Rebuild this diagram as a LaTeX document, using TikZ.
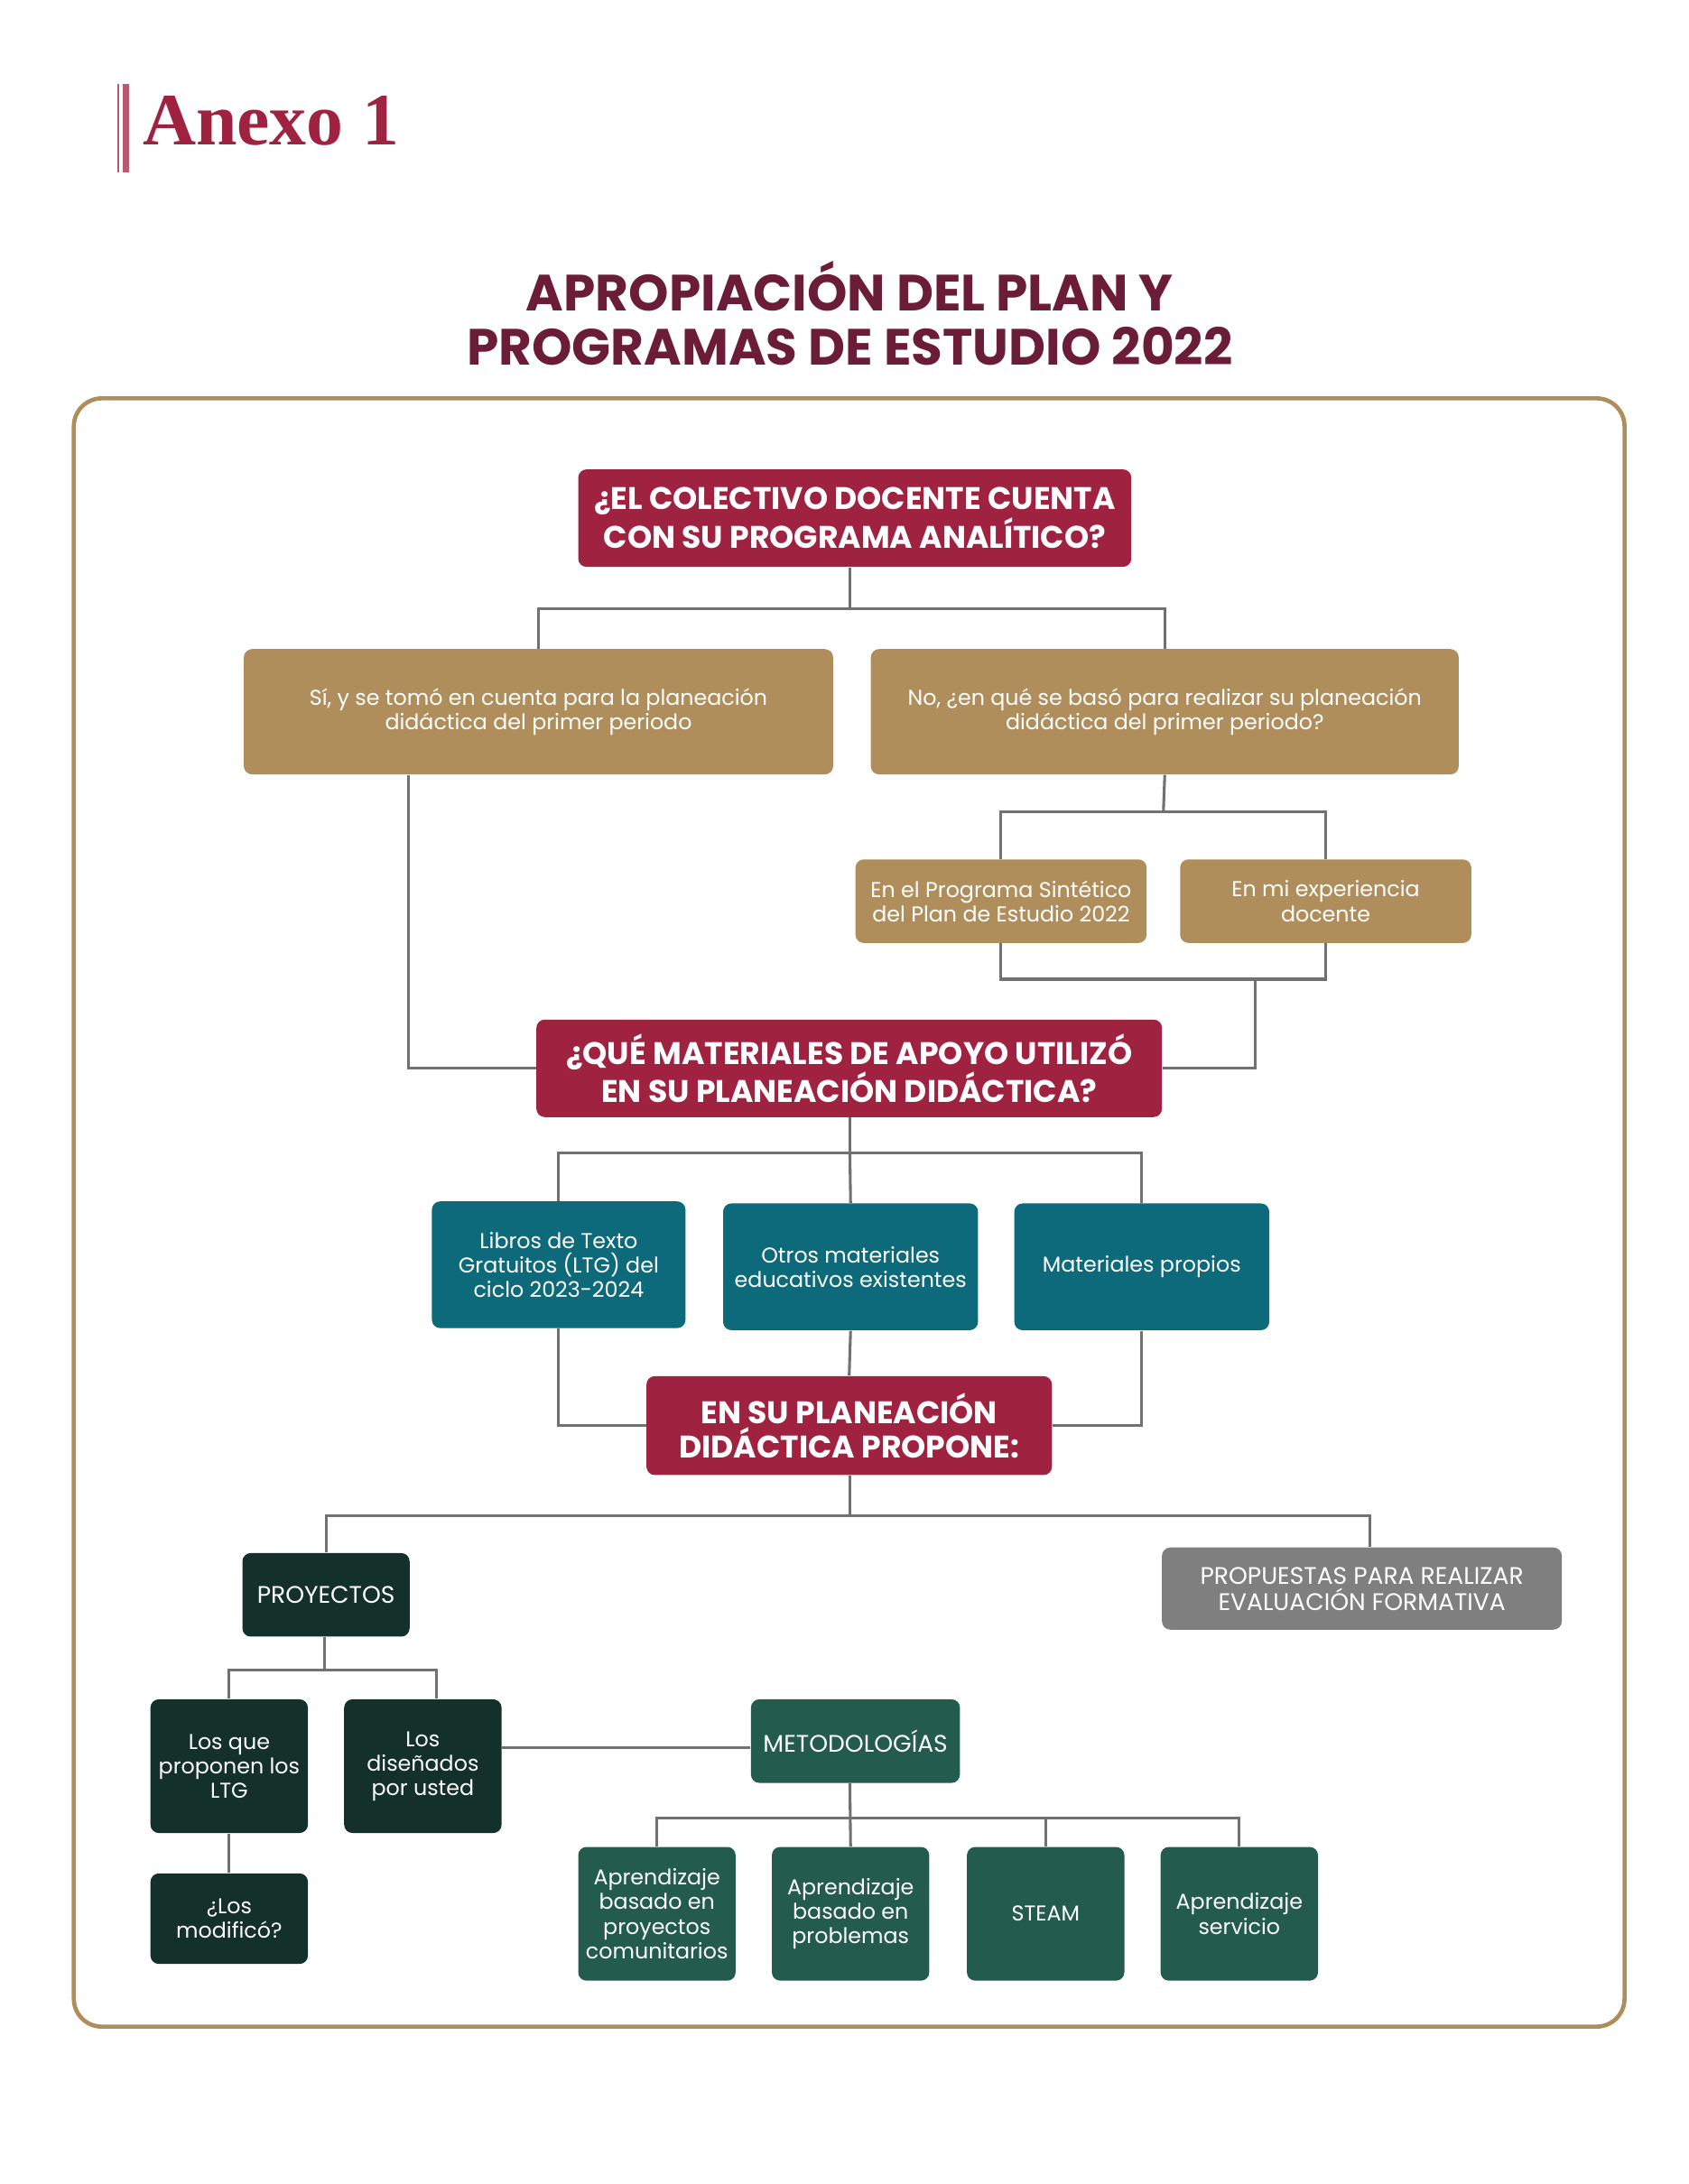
\documentclass[tikz,border=0pt]{standalone}
\usepackage{fontspec}
\setmainfont{Poppins}
\newfontfamily\serifa{Liberation Serif}
\definecolor{guinda}{HTML}{9F2241}
\definecolor{vino}{HTML}{6B1D38}
\definecolor{dorado}{HTML}{B08E5C}
\definecolor{petroleo}{HTML}{0D6A7B}
\definecolor{verdeosc}{HTML}{13302A}
\definecolor{verde}{HTML}{245B4F}
\definecolor{gris}{HTML}{7E7F7E}
\definecolor{linea}{HTML}{717171}
\tikzset{
  caja/.style={rounded corners=3pt, text=white, align=center, inner sep=2pt,
    font=\fontsize{7.7}{8.8}\selectfont},
  mayus/.style={font=\fontsize{8.6}{9.4}\selectfont},
  pregunta/.style={caja, fill=guinda, font=\fontsize{11.2}{12.5}\selectfont\bfseries},
  respuesta/.style={caja, fill=dorado},
  material/.style={caja, fill=petroleo},
  proyecto/.style={caja, fill=verdeosc},
  metodo/.style={caja, fill=verde},
  conn/.style={draw=linea, line width=1pt},
}

\begin{document}
\begin{tikzpicture}[x=0.5pt, y=-0.5pt]
    \useasboundingbox (0,0) rectangle (1212,1568);
    % Encabezado
    \fill[guinda!75] (84,60) rectangle (85.6,124);
    \fill[guinda!75] (88,60) rectangle (92.6,124);
    \node[anchor=base west, inner sep=0pt, text=guinda,
      font=\serifa\fontsize{26.5}{28}\selectfont\bfseries] (anexo) at (102,104) {Anexo 1};
    \node[align=center, text=vino, font=\fontsize{18.3}{19.5}\selectfont\bfseries] (titulo) at (610,225)
      {APROPIACIÓN DEL PLAN Y\\PROGRAMAS DE ESTUDIO 2022};

    % Marco
    \draw[dorado, line width=1.5pt, rounded corners=10pt] (53,286) rectangle (1166,1455);

    % Primera pregunta y respuestas
    \node[pregunta, minimum width=198.5pt, minimum height=35pt] (q1) at (613.5,372)
      {¿EL COLECTIVO DOCENTE CUENTA\\CON SU PROGRAMA ANALÍTICO?};
    \node[respuesta, minimum width=211.5pt, minimum height=45pt] (si) at (386.5,511)
      {Sí, y se tomó en cuenta para la planeación\\didáctica del primer periodo};
    \node[respuesta, minimum width=211pt, minimum height=45pt] (no) at (836,511)
      {No, ¿en qué se basó para realizar su planeación\\didáctica del primer periodo?};
    \node[respuesta, minimum width=104.5pt, minimum height=30pt] (sint) at (718.5,647)
      {En el Programa Sintético\\del Plan de Estudio 2022};
    \node[respuesta, minimum width=104.5pt, minimum height=30pt] (exp) at (951.5,647)
      {En mi experiencia\\docente};

    % Segunda pregunta y materiales
    \node[pregunta, minimum width=224.5pt, minimum height=35pt] (q2) at (609.5,767)
      {¿QUÉ MATERIALES DE APOYO UTILIZÓ\\EN SU PLANEACIÓN DIDÁCTICA?};
    \node[material, minimum width=91pt, minimum height=45.5pt] (lib) at (401,908)
      {Libros de Texto\\Gratuitos (LTG) del\\ciclo 2023-2024};
    \node[material, minimum width=91.5pt, minimum height=45.5pt] (otros) at (610.5,909.5)
      {Otros materiales\\educativos existentes};
    \node[material, minimum width=91.5pt, minimum height=45.5pt] (prop) at (819.5,909.5)
      {Materiales propios};

    % Tercera pregunta y propuestas
    \node[pregunta, minimum width=145.5pt, minimum height=35.5pt] (q3) at (609.5,1023.5)
      {EN SU PLANEACIÓN\\DIDÁCTICA PROPONE:};
    \node[proyecto, mayus, minimum width=60pt, minimum height=30pt] (proy) at (234,1145) {PROYECTOS};
    \node[caja, mayus, fill=gris, minimum width=143.5pt, minimum height=29.5pt] (eval) at (977.5,1140.5)
      {PROPUESTAS PARA REALIZAR\\EVALUACIÓN FORMATIVA};
    \node[proyecto, minimum width=56.5pt, minimum height=48pt] (losque) at (164.5,1268)
      {Los que\\proponen los\\LTG};
    \node[proyecto, minimum width=56.5pt, minimum height=48pt] (disen) at (303.5,1268)
      {Los\\diseñados\\por usted};
    \node[proyecto, minimum width=56.5pt, minimum height=32.5pt] (modif) at (164.5,1377.5)
      {¿Los\\modificó?};
    \node[metodo, mayus, minimum width=75pt, minimum height=30pt] (met) at (614,1250) {METODOLOGÍAS};
    \node[metodo, minimum width=56.5pt, minimum height=48pt] (ap1) at (471.5,1374)
      {Aprendizaje\\basado en\\proyectos\\comunitarios};
    \node[metodo, minimum width=56.5pt, minimum height=48pt] (ap2) at (610.5,1374)
      {Aprendizaje\\basado en\\problemas};
    \node[metodo, minimum width=56.5pt, minimum height=48pt] (ap3) at (750.5,1374) {STEAM};
    \node[metodo, minimum width=56.5pt, minimum height=48pt] (ap4) at (889.5,1374)
      {Aprendizaje\\servicio};

    % Puntos de union
    \coordinate (b1) at (610,437);
    \coordinate (b2) at (835,583);
    \coordinate (b3) at (835,703);
    \coordinate (b4) at (901,703);
    \coordinate (b5) at (293,771);
    \coordinate (b6) at (610,828);
    \coordinate (b7) at (610,1088);
    \coordinate (b8) at (233,1199);
    \coordinate (b9) at (610,1305);

    % Conectores
    \draw[conn] (q1.south -| b1) -- (b1);
    \draw[conn] (si.north) |- (b1) -| (no.north);
    \draw[conn] (no.south) -- (b2);
    \draw[conn] (sint.north) |- (b2) -| (exp.north);
    \draw[conn] (sint.south) |- (b3) -| (exp.south);
    \draw[conn] (b4) |- (q2.east);
    \draw[conn] (si.south -| b5) |- (q2.west);
    \draw[conn] (q2.south -| b6) -- (b6);
    \draw[conn] (lib.north) |- (b6) -| (prop.north);
    \draw[conn] (b6) -- (otros.north);
    \draw[conn] (lib.south) |- (q3.west);
    \draw[conn] (prop.south) |- (q3.east);
    \draw[conn] (otros.south) -- (q3.north);
    \draw[conn] (q3.south -| b7) -- (b7);
    \draw[conn] (proy.north) |- (b7) -| ([xshift=3pt]eval.north);
    \draw[conn] (proy.south -| b8) -- (b8);
    \draw[conn] (losque.north) |- (b8) -| ([xshift=4.75pt]disen.north);
    \draw[conn] (losque.south) -- (modif.north);
    \draw[conn] (met.west |- 0,1255) -- (disen.east |- 0,1255);
    \draw[conn] (met.south -| b9) -- (ap2.north);
    \draw[conn] (ap1.north) |- (b9) -| (ap4.north);
    \draw[conn] (ap3.north) -- (ap3.north |- b9);
\end{tikzpicture}
\end{document}
